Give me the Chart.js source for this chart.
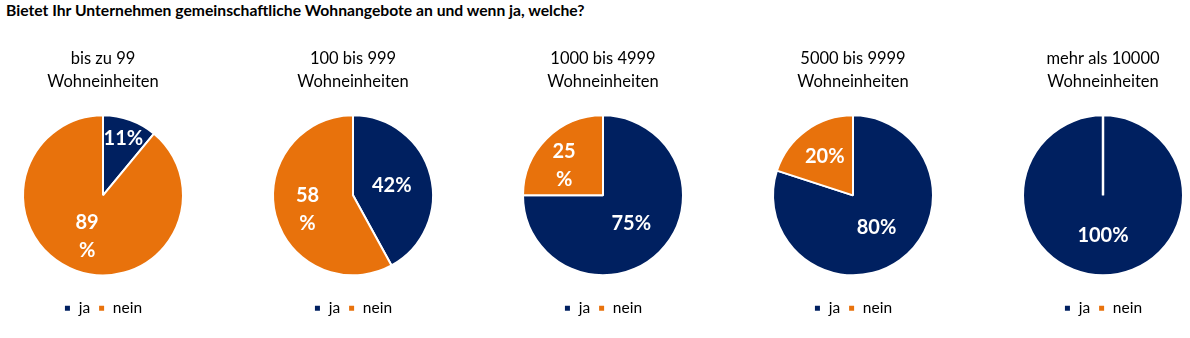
<!DOCTYPE html>
<html>
<head>
<meta charset="utf-8">
<script src="https://cdn.jsdelivr.net/npm/chart.js@4.4.1/dist/chart.umd.min.js"></script>
<style>
  body { margin: 0; background: #fff; width: 1190px; height: 338px; overflow: hidden; position: relative; font-family: Lato, "Open Sans", sans-serif; }
  #heading { position: absolute; left: 6px; top: 1px; font-weight: bold; font-size: 15.7px; color: #000; }
  .pie { position: absolute; top: 40px; width: 230px; height: 292px; }
</style>
</head>
<body>
<div id="heading">Bietet Ihr Unternehmen gemeinschaftliche Wohnangebote an und wenn ja, welche?</div>
<canvas class="pie" id="p0" width="230" height="292"></canvas>
<canvas class="pie" id="p1" width="230" height="292"></canvas>
<canvas class="pie" id="p2" width="230" height="292"></canvas>
<canvas class="pie" id="p3" width="230" height="292"></canvas>
<canvas class="pie" id="p4" width="230" height="292"></canvas>
<script>
const groups = [['bis zu 99', 'Wohneinheiten'], ['100 bis 999', 'Wohneinheiten'], ['1000 bis 4999', 'Wohneinheiten'], ['5000 bis 9999', 'Wohneinheiten'], ['mehr als 10000', 'Wohneinheiten']];
const answers = ['ja', 'nein'];
const ja = [11, 42, 75, 80, 100];
const nein = [89, 58, 25, 20, 0];
// labels that break after the number (e.g. "89" / "%")
const wrapJa = [false, false, false, false, false];
const wrapNein = [true, true, true, false, false];

const colors = ['#002060', '#E8720C'];
const fontFamily = 'Lato, "Open Sans", sans-serif';

// white percentage labels inside the slices, plus the divider for empty slices
const sliceLabels = {
  id: 'sliceLabels',
  afterDatasetsDraw(chart) {
    const c = chart.ctx;
    const meta = chart.getDatasetMeta(0);
    const ds = chart.data.datasets[0];
    meta.data.forEach((arc, i) => {
      const v = ds.data[i];
      const p = arc.getProps(['x', 'y', 'startAngle', 'endAngle', 'outerRadius']);
      if (v === 0) {
        c.save();
        c.strokeStyle = '#fff';
        c.lineWidth = 2.5;
        c.beginPath();
        c.moveTo(p.x, p.y);
        c.lineTo(p.x + Math.cos(p.startAngle) * p.outerRadius, p.y + Math.sin(p.startAngle) * p.outerRadius);
        c.stroke();
        c.restore();
        return;
      }
      const mid = (p.startAngle + p.endAngle) / 2;
      const f = v < 15 ? 0.75 : v < 30 ? 0.6 : 0.5;
      let x = p.x + Math.cos(mid) * p.outerRadius * f;
      let y = p.y + Math.sin(mid) * p.outerRadius * f;
      c.save();
      c.fillStyle = '#fff';
      c.font = 'bold 20px ' + fontFamily;
      c.textAlign = 'center';
      c.textBaseline = 'middle';
      if (ds.wrap[i]) {
        // two-line labels sit a little lower and further out
        x += Math.cos(mid) * 7;
        y += 4;
        c.fillText(String(v), x, y - 14);
        c.fillText('%', x, y + 14);
      } else {
        c.fillText(v + '%', x, y);
      }
      c.restore();
    });
  }
};

groups.forEach((g, k) => {
  const canvas = document.getElementById('p' + k);
  canvas.style.left = (103 + k * 250 - 115) + 'px';
  new Chart(canvas, {
    type: 'pie',
    data: {
      labels: answers,
      datasets: [{
        data: [ja[k], nein[k]],
        wrap: [wrapJa[k], wrapNein[k]],
        backgroundColor: colors,
        borderColor: '#fff',
        borderWidth: 2,
        radius: 80
      }]
    },
    options: {
      responsive: false,
      animation: false,
      layout: { padding: { bottom: 6 } },
      plugins: {
        title: {
          display: true,
          text: g,
          color: '#000',
          font: { family: fontFamily, size: 16.5, weight: 'normal', lineHeight: 1.4 },
          padding: { top: 7, bottom: 5 }
        },
        legend: {
          position: 'bottom',
          labels: {
            color: '#000',
            boxWidth: 7,
            boxHeight: 7,
            padding: 8,
            font: { family: fontFamily, size: 15.5 }
          }
        },
        tooltip: { enabled: false }
      }
    },
    plugins: [sliceLabels]
  });
});
</script>
</body>
</html>
